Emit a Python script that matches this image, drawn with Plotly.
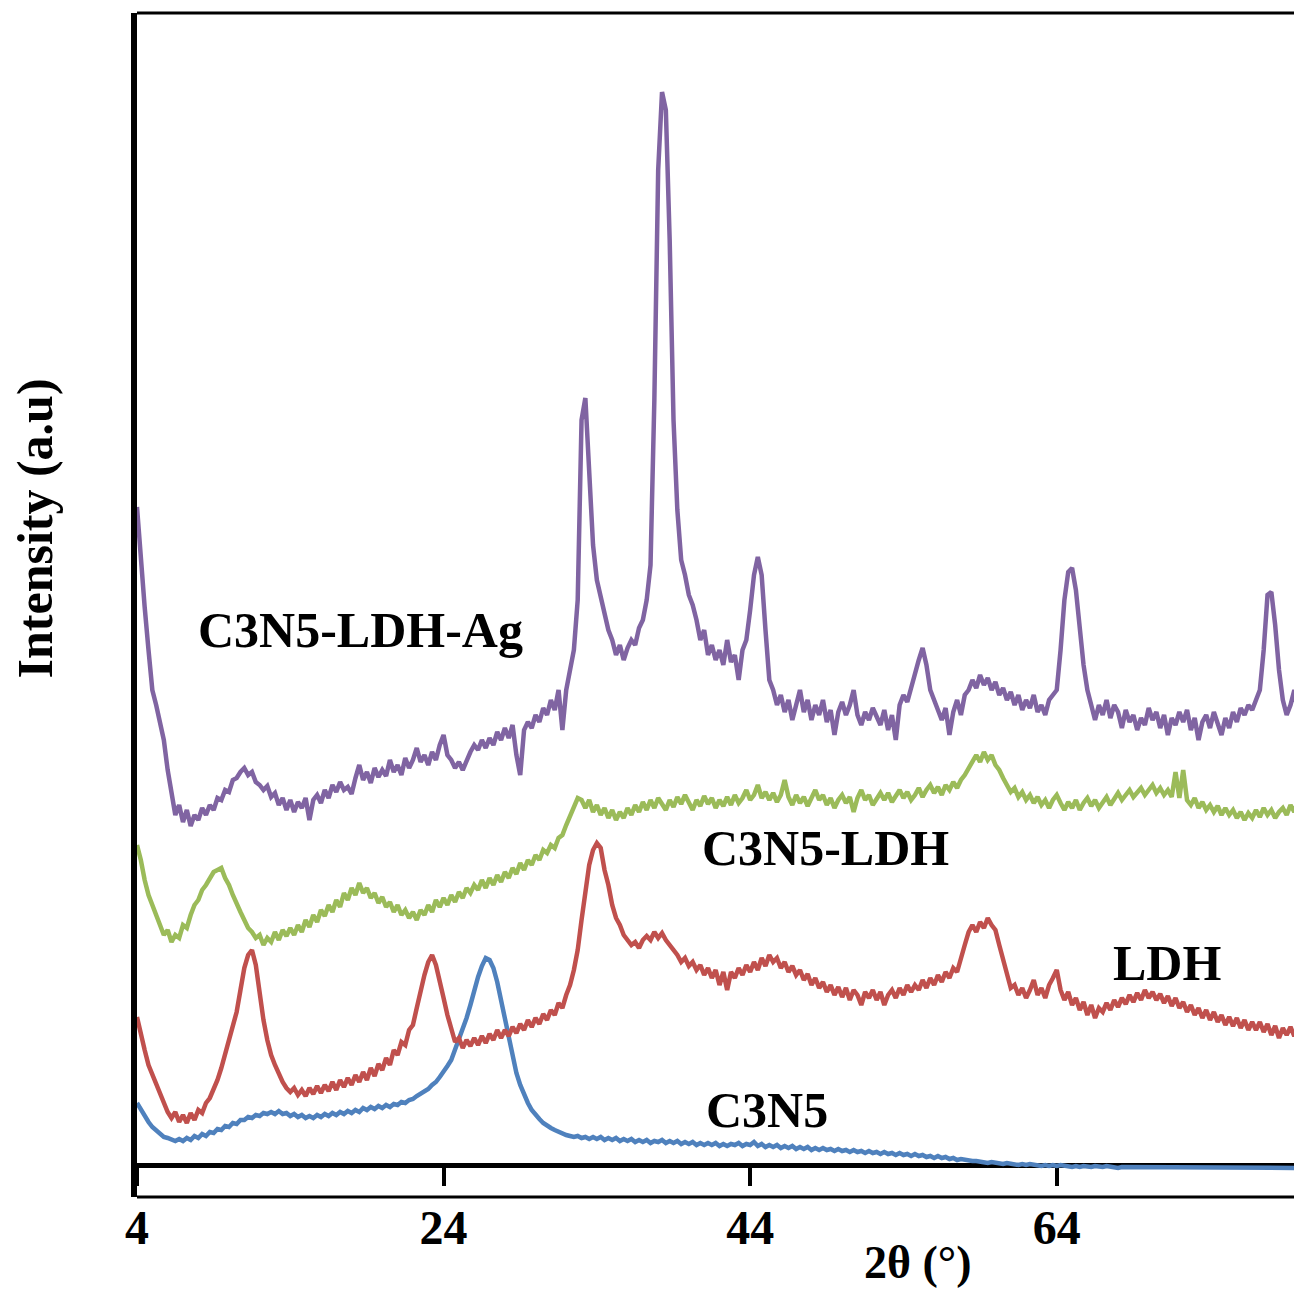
import numpy as np
import plotly.graph_objects as go

# 2-theta grid (degrees), step 0.25 from 4 to 80
two_theta_start = 4.0
two_theta_step = 0.25

# Intensities (a.u.), one row per 5 degrees
c3n5_ldh_ag = [
    658, 605, 558, 515, 475, 460, 440, 425, 395, 370, 350, 360, 343, 355, 339, 350, 345, 357, 350, 360,
    355, 367, 365, 375, 373, 385, 387, 393, 397, 390, 393, 383, 380, 375, 379, 368, 372, 360, 367, 355,
    365, 353, 363, 357, 367, 345, 365, 370, 362, 375, 367, 380, 373, 383, 375, 378, 371, 387, 400, 385,
    393, 382, 397, 388, 395, 389, 405, 393, 400, 390, 407, 397, 405, 417, 403, 410, 400, 413, 405, 420,
    430, 410, 405, 397, 403, 395, 405, 413, 420, 415, 425, 417, 427, 420, 433, 425, 437, 427, 440, 410,
    390, 435, 443, 437, 450, 443, 457, 450, 465, 455, 475, 435, 475, 493, 515, 565, 745, 767, 695, 620,
    585, 567, 550, 535, 525, 510, 520, 505, 517, 525, 520, 537, 545, 565, 600, 765, 995, 1073, 1055, 925,
    745, 655, 605, 590, 570, 560, 545, 525, 535, 510, 520, 505, 515, 500, 525, 503, 510, 485, 515, 525,
    555, 590, 608, 590, 535, 485, 475, 460, 470, 453, 465, 445, 460, 475, 453, 465, 445, 460, 450, 465,
    443, 455, 430, 453, 463, 450, 460, 475, 450, 440, 453, 445, 457, 447, 440, 455, 435, 450, 425, 460,
    470, 463, 477, 495, 505, 517, 500, 475, 465, 453, 445, 457, 430, 453, 465, 450, 470, 475, 485, 477,
    490, 480, 487, 475, 483, 470, 477, 465, 473, 460, 470, 455, 465, 457, 470, 453, 460, 450, 465, 470,
    475, 515, 565, 593, 597, 575, 535, 500, 475, 460, 445, 460, 450, 465, 447, 460, 453, 437, 455, 443,
    450, 435, 447, 440, 457, 445, 453, 437, 450, 430, 447, 440, 453, 443, 455, 435, 447, 425, 443, 450,
    437, 453, 440, 430, 447, 437, 453, 443, 457, 450, 460, 455, 465, 475, 515, 570, 573, 540, 495, 465,
    450, 460, 475, 450, 460,
]

c3n5_ldh = [
    320, 305, 285, 270, 260, 250, 240, 230, 235, 223, 230, 227, 240, 237, 250, 260, 265, 275, 280, 287,
    293, 295, 297, 287, 280, 270, 260, 253, 245, 237, 233, 227, 230, 220, 227, 223, 233, 225, 235, 229,
    237, 230, 240, 233, 245, 238, 250, 243, 255, 249, 260, 253, 265, 258, 272, 265, 277, 270, 282, 272,
    277, 267, 272, 262, 268, 258, 263, 253, 260, 250, 255, 247, 253, 245, 255, 250, 260, 253, 265, 258,
    267, 260, 270, 263, 273, 267, 277, 272, 280, 275, 285, 277, 287, 280, 290, 283, 293, 287, 297, 291,
    302, 295, 305, 300, 310, 305, 315, 312, 320, 317, 327, 330, 340, 350, 360, 367, 365, 357, 365, 353,
    360, 350, 357, 347, 355, 345, 353, 347, 357, 350, 360, 353, 363, 355, 365, 357, 367, 360, 355, 365,
    358, 368, 361, 370, 362, 355, 365, 359, 369, 361, 367, 357, 365, 359, 368, 360, 370, 362, 367, 375,
    365, 370, 380, 367, 373, 365, 372, 363, 370, 385, 368, 360, 370, 362, 368, 359, 367, 375, 365, 370,
    360, 367, 357, 365, 370, 362, 368, 353, 367, 375, 365, 370, 360, 367, 372, 365, 372, 363, 369, 375,
    367, 373, 365, 370, 377, 368, 375, 380, 372, 378, 370, 380, 375, 383, 377, 385, 390, 397, 405, 410,
    403, 413, 405, 410, 400, 395, 387, 380, 373, 377, 368, 373, 365, 370, 362, 368, 360, 365, 357, 365,
    370, 362, 355, 363, 357, 365, 355, 362, 367, 359, 365, 357, 363, 368, 360, 367, 372, 365, 370, 375,
    368, 373, 377, 370, 375, 380, 372, 377, 370, 375, 368, 393, 367, 395, 365, 360, 367, 357, 363, 355,
    360, 353, 359, 350, 357, 350, 355, 347, 353, 345, 352, 347, 355, 348, 357, 350, 355, 347, 353, 357,
    350, 360, 353, 365, 355,
]

ldh = [
    148, 130, 115, 100, 90, 80, 70, 60, 53, 47, 53, 43, 50, 42, 52, 45, 55, 52, 62, 67,
    75, 85, 97, 110, 123, 137, 153, 175, 197, 210, 215, 200, 170, 145, 125, 110, 100, 90, 83, 77,
    73, 77, 70, 75, 69, 77, 71, 79, 72, 80, 74, 83, 75, 85, 78, 87, 80, 90, 83, 93,
    85, 97, 89, 101, 95, 107, 100, 115, 110, 123, 120, 135, 140, 157, 175, 190, 203, 210, 200, 185,
    167, 150, 135, 123, 127, 117, 125, 119, 127, 120, 129, 122, 131, 125, 135, 127, 135, 129, 138, 132,
    141, 135, 145, 138, 147, 141, 151, 145, 155, 150, 162, 157, 170, 180, 195, 215, 245, 275, 300, 315,
    322, 317, 295, 280, 260, 247, 240, 230, 225, 220, 223, 217, 225, 229, 225, 233, 227, 232, 225, 220,
    215, 210, 203, 207, 199, 203, 195, 200, 190, 197, 187, 195, 180, 193, 175, 193, 187, 197, 190, 200,
    193, 203, 195, 207, 199, 210, 203, 207, 197, 203, 193, 199, 190, 195, 185, 191, 180, 187, 177, 183,
    173, 180, 170, 178, 168, 177, 165, 175, 170, 160, 173, 167, 175, 165, 173, 160, 170, 175, 167, 177,
    170, 180, 173, 180, 175, 185, 177, 187, 180, 190, 183, 193, 187, 197, 193, 205, 220, 233, 240, 233,
    243, 237, 247, 240, 235, 220, 205, 190, 177, 180, 170, 177, 167, 175, 185, 170, 177, 167, 180, 187,
    195, 175, 165, 173, 160, 167, 155, 163, 150, 160, 147, 157, 153, 162, 155, 165, 158, 167, 161, 170,
    163, 172, 165, 175, 167, 173, 165, 171, 162, 169, 159, 167, 157, 163, 153, 160, 150, 157, 147, 155,
    145, 153, 143, 150, 140, 148, 139, 147, 137, 145, 135, 143, 135, 143, 133, 141, 130, 139, 127, 137,
    130, 138, 129, 137, 131,
]

c3n5 = [
    62, 55, 48, 43, 38, 35, 31, 28, 27, 25, 24, 26, 24, 27, 25, 29, 27, 31, 29, 33,
    32, 36, 35, 39, 38, 42, 41, 45, 45, 48, 47, 50, 49, 52, 51, 53, 51, 54, 51, 52,
    49, 51, 48, 50, 47, 49, 47, 50, 48, 51, 49, 52, 50, 53, 51, 54, 52, 55, 53, 57,
    55, 58, 56, 59, 57, 60, 58, 61, 60, 63, 62, 65, 66, 69, 71, 74, 76, 80, 83, 88,
    93, 99, 105, 115, 125, 135, 147, 160, 175, 188, 199, 207, 205, 197, 183, 165, 145, 125, 107, 92,
    80, 70, 62, 55, 50, 46, 42, 39, 37, 35, 33, 32, 30, 29, 28, 29, 27, 28, 26, 28,
    26, 28, 25, 27, 25, 27, 24, 26, 24, 26, 23, 25, 23, 25, 22, 24, 23, 25, 22, 24,
    22, 24, 21, 23, 21, 23, 20, 22, 20, 22, 20, 22, 19, 21, 19, 21, 20, 22, 19, 21,
    20, 23, 19, 21, 18, 20, 18, 20, 17, 19, 17, 19, 16, 18, 16, 18, 15, 17, 15, 17,
    15, 16, 14, 16, 14, 15, 13, 15, 13, 14, 12, 14, 12, 13, 11, 13, 11, 12, 10, 12,
    10, 11, 9, 11, 9, 10, 8, 9, 7, 9, 7, 8, 6, 7, 5, 6, 5, 5, 4, 4,
    3, 3, 2, 3, 2, 2, 1, 2, 1, 1, 0, 1, 0, 1, 0, 0, -1, 0, -1, 0,
    -1, 0, -1, -1, -2, -1, -2, -1, -2, -2, -1, -2, -2, -1, -2, -2, -3, -2, -2, -3,
    -2, -3, -2, -2, -3, -2, -3, -2, -3, -3, -2, -3, -3, -2, -3, -3, -2, -3, -3, -2,
    -3, -3, -2, -3, -3, -3, -2, -3, -3, -3, -2, -3, -3, -3, -3, -2, -3, -3, -3, -3,
    -3, -3, -3, -3, -3,
]

series_names = ["C3N5", "LDH", "C3N5-LDH", "C3N5-LDH-Ag"]
series_values = [c3n5, ldh, c3n5_ldh, c3n5_ldh_ag]
series_colors = ["#4F81BD", "#C0504D", "#9BBB59", "#8064A2"]

tick_values = [4, 24, 44, 64]

# label positions (2theta, intensity)
label_text = ["C3N5-LDH-Ag", "C3N5-LDH", "LDH", "C3N5"]
label_x = [18.6, 48.9, 71.2, 45.1]
label_y = [535, 317, 202, 55]

FONT = "Liberation Serif"

fig = go.Figure()
for name, vals, col in zip(series_names, series_values, series_colors):
    x = two_theta_start + two_theta_step * np.arange(len(vals))
    fig.add_trace(go.Scatter(x=x, y=vals, mode="lines", name=name,
                             line=dict(color=col, width=4.5)))

for t, lx, ly in zip(label_text, label_x, label_y):
    fig.add_annotation(x=lx, y=ly, text=f"<b>{t}</b>", showarrow=False,
                       font=dict(family=FONT, size=50, color="black"),
                       xanchor="center", yanchor="middle")

# axis titles
fig.add_annotation(x=54.95, xref="x", y=-0.055, yref="paper", text="<b>2θ (°)</b>",
                   showarrow=False, font=dict(family=FONT, size=46, color="black"),
                   xanchor="center", yanchor="middle")
fig.add_annotation(x=-0.0876, xref="paper", y=0.5646, yref="paper",
                   text="<b>Intensity (a.u)</b>", textangle=-90, showarrow=False,
                   font=dict(family=FONT, size=50, color="black"),
                   xanchor="center", yanchor="middle")

# frame lines (top and bottom of box)
fig.add_shape(type="line", xref="paper", yref="paper", x0=0, x1=1, y0=1, y1=1,
              line=dict(color="black", width=3))
fig.add_shape(type="line", xref="paper", yref="paper", x0=0, x1=1, y0=0, y1=0,
              line=dict(color="black", width=3))

# page body has an 8 px default margin, so the figure is 8 px smaller and shifted
fig.update_layout(
    width=1294, height=1283,
    margin=dict(l=129, r=0, t=5, b=94),
    paper_bgcolor="white", plot_bgcolor="white",
    showlegend=False,
    xaxis=dict(range=[4, 80], tickvals=tick_values,
               ticktext=[f"<b>{v}</b>" for v in tick_values],
               anchor="free", position=0.027,
               showline=True, linecolor="black", linewidth=5,
               ticks="outside", ticklen=18, tickwidth=4, tickcolor="black",
               tickfont=dict(family=FONT, size=48, color="black"),
               ticklabelstandoff=0,
               showgrid=False, zeroline=False, layer="below traces"),
    yaxis=dict(range=[-32, 1152], showticklabels=False, ticks="",
               showline=True, linecolor="black", linewidth=6,
               showgrid=False, zeroline=False),
)

fig.write_html("out.html")
